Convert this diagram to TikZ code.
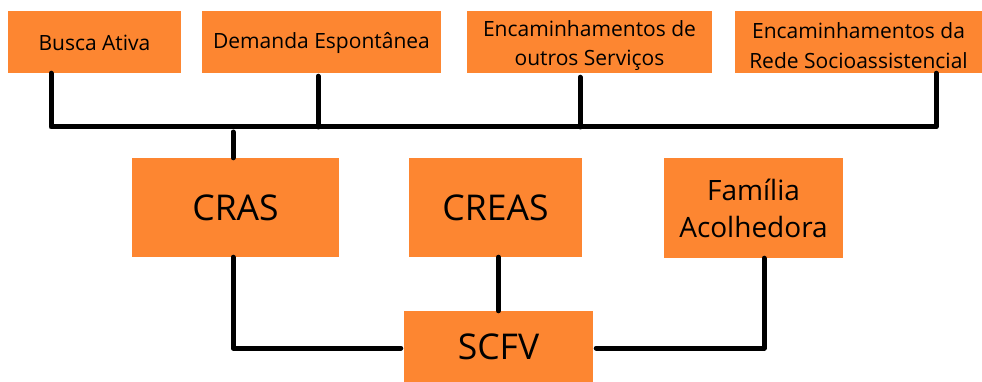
\documentclass[tikz,border=0pt]{standalone}
\usepackage{fontspec}
\setmainfont{Open Sans}
\usepackage{tikz}
\usetikzlibrary{calc}
\definecolor{boxorange}{HTML}{FD8631}
\tikzset{
  box/.style={fill=boxorange, draw=none, inner sep=0pt, align=center},
  small/.style={box, minimum height=62pt, font=\fontsize{21}{29.5}\selectfont},
  big/.style={box, font=\fontsize{35.5}{40}\selectfont},
  link/.style={line width=5pt, line cap=round, line join=round}
}
\newcommand{\smallbox}[4]{\node[small, minimum width=#3pt] (#1) at (#2,42) {#4};}
\newcommand{\bigbox}[6]{\node[big, minimum width=#4pt, minimum height=#5pt] (#1) at (#2,#3) {#6};}
\newcommand{\lowstrut}{\rule{0pt}{23pt}}

\begin{document}
\begin{tikzpicture}[x=1pt,y=-1pt]
        \useasboundingbox (0,0) rectangle (982,382);
        % top row
        \smallbox{busca}{94.5}{173}{\rule{0pt}{18pt}Busca Ativa}
        \smallbox{demanda}{321.5}{239}{\rule{0pt}{18pt}Demanda Espontânea}
        \smallbox{outros}{589.5}{245}{\lowstrut Encaminhamentos de\\outros Serviços}
        \smallbox{rede}{858.5}{247}{\lowstrut Encaminhamentos da\\Rede Socioassistencial}
        % middle row
        \bigbox{cras}{235.5}{207.5}{207}{99}{CRAS}
        \bigbox{creas}{495.5}{207.5}{173}{99}{CREAS}
        \node[big, minimum width=179pt, minimum height=100pt,
              font=\fontsize{28}{37}\selectfont] (familia) at (753.5,208) {Família\\Acolhedora};
        % bottom
        \bigbox{scfv}{498.5}{346.5}{189}{71}{SCFV}

        % bar
        \coordinate (barL) at (51,127);
        \coordinate (barD) at (318,127);
        \coordinate (barO) at (580,127);
        \coordinate (barR) at (936,127);
        \draw[link] (busca.south -| barL) -- (barL) -- (barR) -- (rede.south -| barR);
        \draw[link] ($(demanda.south -| barD)+(0,3)$) -- (barD);
        \draw[link] ($(outros.south -| barO)+(0,4)$) -- (barO);
        \draw[link] ($(cras.north)+(-2.5,0)$) -- ($(cras.north |- barL)+(-2.5,5)$);

        % to SCFV
        \draw[link] ($(cras.south)+(-2.5,0)$) |- ($(scfv.west)+(-3,1.5)$);
        \draw[link] (scfv.north) -- (scfv.north |- creas.south);
        \draw[link] ($(familia.south)+(10.5,0)$) |- ($(scfv.east)+(3,1.5)$);
\end{tikzpicture}
\end{document}
